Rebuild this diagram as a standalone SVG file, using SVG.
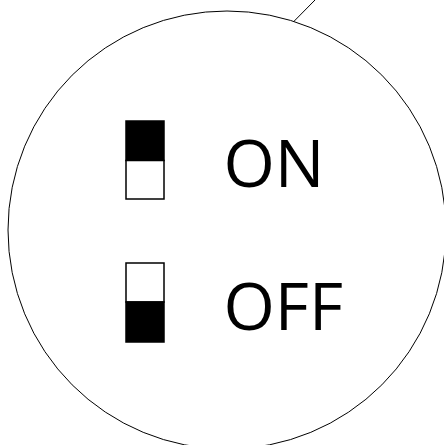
<svg xmlns="http://www.w3.org/2000/svg" width="444" height="445" viewBox="0 0 444 445">
<style>
.ln{fill:none;stroke:#000;stroke-width:1}
.sw{stroke:#000;stroke-width:1.5}
.lbl{font-family:"Open Sans","Liberation Sans",sans-serif;font-size:66px;fill:#000}
</style>
<rect width="444" height="445" fill="#fff"/>
<g id="connectors">
<line class="ln" x1="293.3" y1="22" x2="316" y2="-1"/>
</g>
<g id="circle">
<circle class="ln" cx="227" cy="230" r="219"/>
</g>
<g id="switch-on">
<rect class="sw" x="126" y="121" width="38" height="39.5" fill="#000"/>
<rect class="sw" x="126" y="160.5" width="38" height="38.5" fill="#fff"/>
<text class="lbl" x="223.5" y="187">ON</text>
</g>
<g id="switch-off">
<rect class="sw" x="126" y="263" width="38" height="39" fill="#fff"/>
<rect class="sw" x="126" y="302" width="38" height="40" fill="#000"/>
<text class="lbl" x="223.5" y="330">OFF</text>
</g>
</svg>
